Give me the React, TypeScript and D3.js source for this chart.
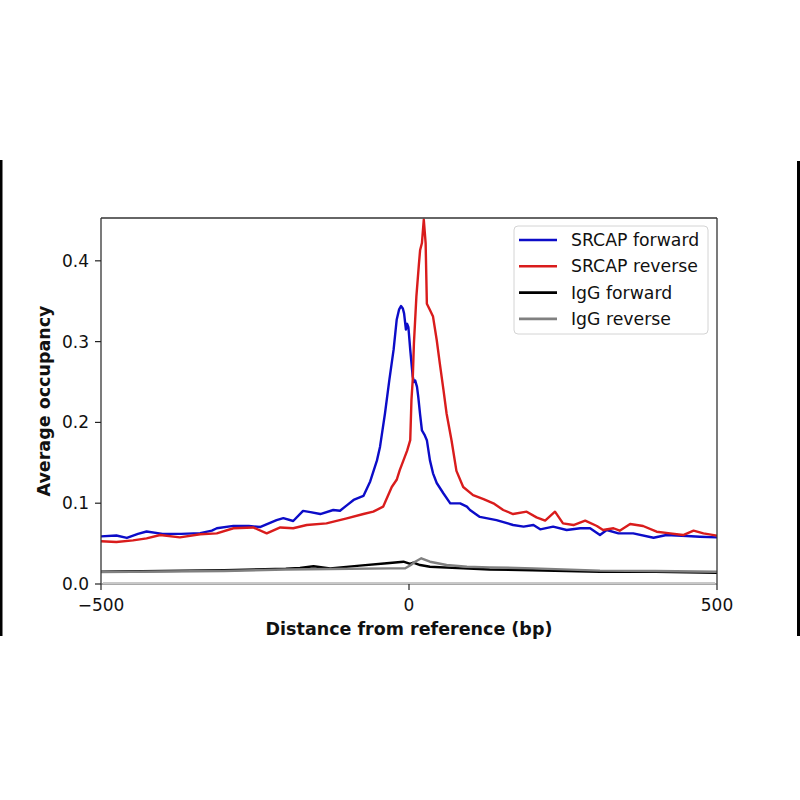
import React from "react";
import * as d3 from "d3";

// distance from reference (bp) and average occupancy
const srcapFwdX = [-500, -475, -458, -440, -426, -400, -370, -339, -320, -312, -285, -260, -242, -215, -204, -188, -172, -160, -144, -123, -112, -100, -90, -74, -63, -52, -47, -39, -32, -25, -20, -16, -13, -10, -8, -5, -3, -1, 2, 6, 8, 10, 13, 15, 18, 21, 25, 29, 34, 39, 45, 56, 67, 83, 94, 99, 115, 142, 169, 186, 202, 213, 234, 256, 278, 294, 310, 321, 340, 364, 397, 418, 451, 472, 500];
const srcapFwdY = [0.059, 0.06, 0.057, 0.062, 0.065, 0.062, 0.062, 0.063, 0.066, 0.069, 0.072, 0.072, 0.0705, 0.079, 0.0815, 0.078, 0.0905, 0.089, 0.0866, 0.0916, 0.0907, 0.098, 0.104, 0.109, 0.127, 0.153, 0.17, 0.211, 0.252, 0.29, 0.327, 0.34, 0.344, 0.341, 0.335, 0.315, 0.322, 0.318, 0.29, 0.257, 0.25, 0.252, 0.244, 0.232, 0.21, 0.19, 0.185, 0.178, 0.153, 0.137, 0.125, 0.112, 0.0998, 0.0998, 0.0957, 0.0916, 0.083, 0.079, 0.073, 0.071, 0.073, 0.0677, 0.071, 0.0668, 0.069, 0.069, 0.0606, 0.0668, 0.0627, 0.0627, 0.0573, 0.0606, 0.0594, 0.0585, 0.0577];

const srcapRevX = [-500, -475, -448, -426, -404, -372, -339, -312, -285, -253, -231, -209, -188, -166, -134, -101, -74, -58, -42, -28, -20, -15, -9, -3, 2, 4, 6, 8, 12, 16, 18, 21, 24, 27, 29, 34, 39, 45, 50, 56, 61, 69, 77, 88, 104, 121, 137, 153, 169, 191, 207, 221, 237, 250, 267, 286, 305, 315, 332, 342, 359, 380, 402, 424, 445, 462, 478, 500];
const srcapRevY = [0.053, 0.052, 0.054, 0.0565, 0.0606, 0.0577, 0.0615, 0.0627, 0.069, 0.07, 0.0627, 0.07, 0.069, 0.073, 0.075, 0.0813, 0.0866, 0.0895, 0.0957, 0.12, 0.129, 0.141, 0.153, 0.165, 0.178, 0.228, 0.252, 0.298, 0.356, 0.395, 0.413, 0.422, 0.451, 0.422, 0.347, 0.339, 0.331, 0.302, 0.273, 0.24, 0.211, 0.178, 0.14, 0.12, 0.11, 0.105, 0.0998, 0.0916, 0.0866, 0.0895, 0.0825, 0.0784, 0.0895, 0.075, 0.073, 0.0784, 0.0718, 0.0668, 0.069, 0.066, 0.0742, 0.0718, 0.0647, 0.0627, 0.0606, 0.066, 0.0627, 0.0598];

const iggFwdX = [-500, -400, -300, -200, -177, -155, -128, -80, -36, -9, 2, 7, 18, 34, 88, 131, 200, 310, 400, 500];
const iggFwdY = [0.0152, 0.016, 0.017, 0.019, 0.02, 0.022, 0.0194, 0.0227, 0.0256, 0.0276, 0.0248, 0.0264, 0.0235, 0.0214, 0.0194, 0.018, 0.017, 0.0152, 0.015, 0.014];

const iggRevX = [-500, -400, -300, -200, -128, -30, -6, 3, 10, 20, 34, 61, 94, 131, 202, 310, 400, 500];
const iggRevY = [0.0147, 0.0155, 0.016, 0.018, 0.0186, 0.0194, 0.0194, 0.0235, 0.0276, 0.0318, 0.0276, 0.0235, 0.0214, 0.0206, 0.0194, 0.0165, 0.016, 0.0152];

const seriesNames = ["SRCAP forward", "SRCAP reverse", "IgG forward", "IgG reverse"];
const seriesColors = ["#0c0cc8", "#d91c1c", "#000000", "#808080"];
const xTicks = [-500, 0, 500];
const yTicks = [0, 0.1, 0.2, 0.3, 0.4];

const left = 101;
const right = 717;
const top = 218;
const bottom = 584;
const font = "DejaVu Sans, sans-serif";

export default function App() {
  const x = d3.scaleLinear().domain([-500, 500]).range([left, right]);
  const y = d3.scaleLinear().domain([0, 0.453]).range([bottom, top]);

  const series = [
    { xs: srcapFwdX, ys: srcapFwdY },
    { xs: srcapRevX, ys: srcapRevY },
    { xs: iggFwdX, ys: iggFwdY },
    { xs: iggRevX, ys: iggRevY },
  ];

  const pathFor = (xs: number[], ys: number[]) =>
    d3
      .line<number>()
      .x((_, i) => x(xs[i]))
      .y((v) => y(v))(ys) || "";

  // draw order: IgG under SRCAP
  const order = [2, 3, 0, 1];

  return (
    <svg
      width={800}
      height={800}
      style={{ position: "absolute", left: 0, top: 0, background: "#fff" }}
      fontFamily={font}
    >
      {/* frame bars from the original figure */}
      <rect x={0} y={160} width={2.5} height={476} fill="#000" />
      <rect x={797} y={161} width={3} height={475} fill="#000" />

      <defs>
        <clipPath id="plot">
          <rect x={left} y={top - 1} width={right - left} height={bottom - top + 1} />
        </clipPath>
      </defs>

      <g clipPath="url(#plot)">
        {order.map((k) => (
          <path
            key={k}
            d={pathFor(series[k].xs, series[k].ys)}
            fill="none"
            stroke={seriesColors[k]}
            strokeWidth={2.4}
            strokeLinejoin="round"
          />
        ))}
      </g>

      {/* spines */}
      <line x1={left} x2={right} y1={top} y2={top} stroke="#333" strokeWidth={1.3} />
      <line x1={left} x2={left} y1={top} y2={bottom} stroke="#333" strokeWidth={1.3} />
      <line x1={right} x2={right} y1={top} y2={bottom} stroke="#333" strokeWidth={1.3} />
      <line x1={left} x2={right} y1={bottom} y2={bottom} stroke="#555" strokeWidth={1.2} />
      <line x1={left + 2} x2={right - 2} y1={bottom - 1} y2={bottom - 1} stroke="#c8c8c8" strokeWidth={2} />

      {/* x ticks */}
      {xTicks.map((t) => (
        <g key={t} transform={`translate(${x(t)},${bottom})`}>
          <line y1={0} y2={6} stroke="#222" strokeWidth={1.2} />
          <text y={27} textAnchor="middle" fontSize={17} fill="#111">
            {t < 0 ? `\u2212${Math.abs(t)}` : t}
          </text>
        </g>
      ))}

      {/* y ticks */}
      {yTicks.map((t) => (
        <g key={t} transform={`translate(${left},${y(t)})`}>
          <line x1={-6} x2={0} stroke="#222" strokeWidth={1.2} />
          <text x={-12} dy="0.35em" textAnchor="end" fontSize={17} fill="#111">
            {t.toFixed(1)}
          </text>
        </g>
      ))}

      <text
        x={(left + right) / 2}
        y={635}
        textAnchor="middle"
        fontSize={17.5}
        fontWeight="bold"
        fill="#111"
      >
        Distance from reference (bp)
      </text>
      <text
        transform={`translate(50,${(top + bottom) / 2}) rotate(-90)`}
        textAnchor="middle"
        fontSize={17.5}
        fontWeight="bold"
        fill="#111"
      >
        Average occupancy
      </text>

      {/* legend */}
      <rect x={514} y={226} width={194} height={108} rx={4} fill="#fff" fillOpacity={0.85} stroke="#d4d4d4" strokeWidth={1} />
      {seriesNames.map((name, i) => (
        <g key={name} transform={`translate(519,${240 + i * 26.3})`}>
          <line x1={0} x2={38} stroke={seriesColors[i]} strokeWidth={2.6} />
          <text x={52} dy="0.35em" fontSize={17.3} fill="#111">
            {name}
          </text>
        </g>
      ))}
    </svg>
  );
}
